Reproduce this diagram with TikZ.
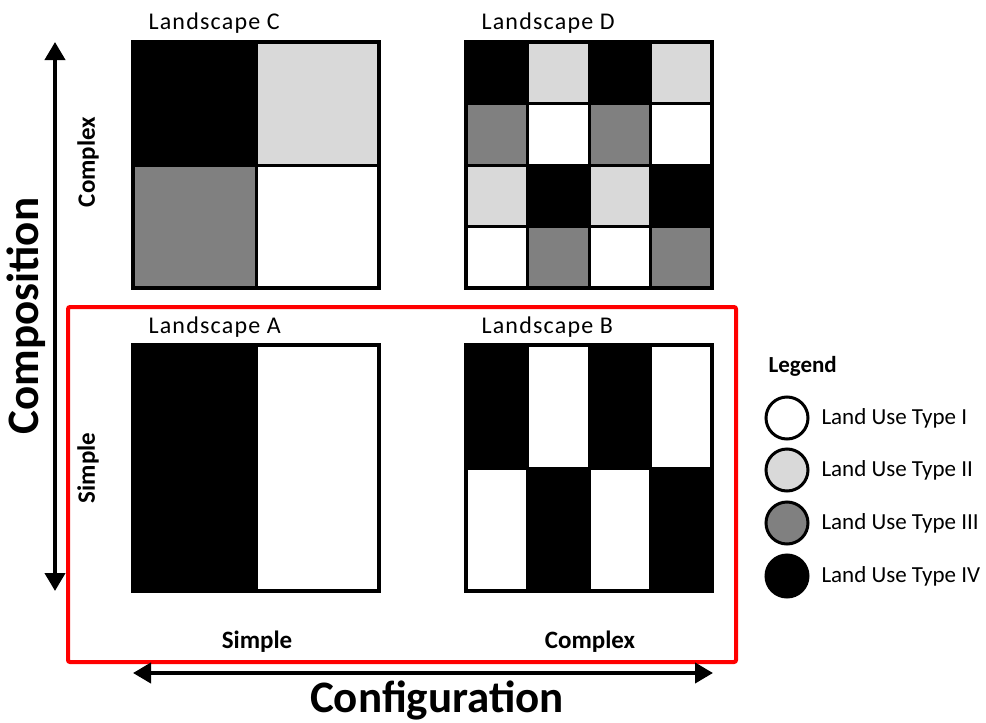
\documentclass[tikz,border=0pt]{standalone}
\usepackage{fontspec}
\setmainfont{Carlito}
\newfontfamily\widefont{Carlito}[LetterSpace=5]
\usetikzlibrary{math,arrows.meta}
\definecolor{luone}{RGB}{255,255,255}
\definecolor{lutwo}{RGB}{217,217,217}
\definecolor{luthree}{RGB}{128,128,128}
\definecolor{lufour}{RGB}{0,0,0}
\definecolor{myred}{RGB}{255,0,0}

% one landscape: left, top, columns, rows, colours row by row
\newcommand{\drawland}[5]{%
  \foreach \col [count=\k from 0] in {#5}{
    \pgfmathtruncatemacro{\cx}{mod(\k,#3)}
    \pgfmathtruncatemacro{\cy}{div(\k,#3)}
    \filldraw[fill=\col,draw=black,line width=3pt]
      ({#1+\cx*\W/#3},{#2+\cy*\W/#4}) rectangle +({\W/#3},{\W/#4});
  }
  \draw[line width=4pt] (#1,#2) rectangle +(\W,\W);
}

\tikzset{
  lbl/.style={font=\widefont\fontsize{24}{28}\selectfont},
  axlbl/.style={font=\fontsize{25}{30}\selectfont\bfseries},
  biglbl/.style={font=\fontsize{45}{50}\selectfont\bfseries},
  lgd/.style={circle,draw=black,line width=3pt,minimum size=42pt,inner sep=0pt},
  axis/.style={line width=4pt,{Triangle[length=18pt,width=20pt]}-{Triangle[length=18pt,width=20pt]}}
}

\begin{document}
\begin{tikzpicture}[x=1pt,y=-1pt]
\tikzmath{
\W=246;%landscape size
\xl=133; \xr=466;%column left edges
\yt=42; \yb=345;%row top edges
}
\useasboundingbox (0,0) rectangle (986,723);

\drawland{\xl}{\yt}{2}{2}{lufour,lutwo,luthree,luone}
\drawland{\xr}{\yt}{4}{4}{lufour,lutwo,lufour,lutwo,luthree,luone,luthree,luone,lutwo,lufour,lutwo,lufour,luone,luthree,luone,luthree}
\drawland{\xl}{\yb}{2}{1}{lufour,luone}
\drawland{\xr}{\yb}{4}{2}{lufour,luone,lufour,luone,luone,lufour,luone,lufour}

\node[lbl,anchor=base west] (landC) at (145,29) {Landscape C};
\node[lbl,anchor=base west] (landD) at (478,29) {Landscape D};
\node[lbl,anchor=base west] (landA) at (145,333) {Landscape A};
\node[lbl,anchor=base west] (landB) at (478,333) {Landscape B};

\draw[myred,line width=4pt,rounded corners=2pt] (68,307) rectangle (736,662);

% axes
\coordinate (compTop) at (55,42);
\coordinate (compBot) at (55,591);
\coordinate (confL) at (133,673);
\coordinate (confR) at (713,673);
\draw[axis] (compBot) -- (compTop);
\draw[axis] (confL) -- (confR);
\node[biglbl,rotate=90] (composition) at (26,316) {Composition};
\node[biglbl] (configuration) at (437,700) {Configuration};
\node[axlbl,rotate=90] (complexV) at (88,162) {Complex};
\node[axlbl,rotate=90] (simpleV) at (88,468) {Simple};
\node[axlbl] (simpleH) at (257,642) {Simple};
\node[axlbl] (complexH) at (590,642) {Complex};

% legend
\node[font=\fontsize{23}{28}\selectfont\bfseries,anchor=west] (legend) at (765,366) {Legend};
\foreach \y/\c/\t [count=\i] in {418/luone/I,470/lutwo/II,523/luthree/III,576/lufour/IV}{
  \node[lgd,fill=\c] (dot\i) at (787,\y) {};
  \node[font=\fontsize{23}{26}\selectfont,anchor=west] (type\i) at (818,\y) {Land Use Type \t};
}
\end{tikzpicture}
\end{document}
